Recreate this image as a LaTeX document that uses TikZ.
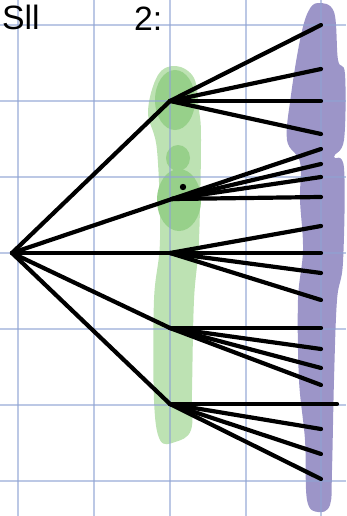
\documentclass[tikz,border=0pt]{standalone}
\usepackage{fontspec}
\setmainfont{Liberation Sans}
\usepackage{tikz}
\usetikzlibrary{calc}
\definecolor{gridB}{HTML}{8FA3D3}
\definecolor{greenL}{HTML}{BDE2B3}
\definecolor{greenD}{HTML}{97D08A}
\definecolor{purpleM}{HTML}{9C95C8}

\begin{document}
\begin{tikzpicture}[
    x=0.5mm,y=-0.5mm,
    pen/.style={line width=2.1mm,line cap=round,line join=round},
    gridline/.style={draw=gridB,line width=0.6mm,opacity=0.6},
    hand/.style={inner sep=0pt,font=\fontsize{48}{48}\selectfont},
]
\useasboundingbox (0,0) rectangle (346,516);
\clip (0,0) rectangle (346,516);

% =====================================================================
%  Marker highlights (behind the tree)
% =====================================================================
% purple band along the leaves
\fill[purpleM] plot[smooth cycle,tension=0.6] coordinates {
    (318,3) (334,12) (338,60) (345,74) (344,140) (334,157) (344,168)
    (343,262) (337,300) (334,380) (332,470) (330,505) (318,512)
    (307,500) (305,440) (299,380) (298,300) (303,250) (300,200)
    (300,162) (287,140) (291,95) (300,40) (308,12)};

% light green band along the middle column
\fill[greenL] plot[smooth cycle,tension=0.6] coordinates {
    (176,66) (194,78) (199,110) (201,140) (199,240) (194,300)
    (192,390) (191,430) (175,442) (160,440) (154,400) (154,300)
    (160,240) (157,150) (148,112) (158,75)};

% darker green blobs round the first two branch points
\fill[greenD] (175,100) ellipse [x radius=20,y radius=30];
\fill[greenD] (178,158) ellipse [x radius=12,y radius=13];
\fill[greenD] (179,200) ellipse [x radius=22,y radius=31];

% =====================================================================
%  Grid paper
% =====================================================================
\foreach \x in {18,94,170,246,321}
   \draw[gridline] (\x,0) -- (\x,516);
\foreach \y in {25,101,177,253,329,405,481}
   \draw[gridline] (0,\y) -- (346,\y);

% =====================================================================
%  Heading scribbles
% =====================================================================
\node[hand,anchor=base west] (lblS) at (2,30) {Sll};
\node[hand,anchor=base west] (lblZ) at (134,31) {2:};

% =====================================================================
%  Tree: root -> five branch points -> leaves
% =====================================================================
\coordinate (root) at (12,253);
\foreach \m/\x/\y in {1/170/101,2/172/199,3/170/253,4/170/328,5/170/404} {
   \coordinate (m\m) at (\x,\y);
   \draw[pen] (root) -- (m\m);
}

% leaves: parent / height / end
\foreach \p/\y/\x [count=\k] in {
      1/25/321,1/69/321,1/101/321,1/134/321,
      2/149/321,2/164/321,2/177/321,2/197/321,
      3/226/321,3/253/321,3/273/321,3/300/321,
      4/328/321,4/349/321,4/368/321,4/385/321,
      5/404/337,5/429/321,5/454/321,5/479/321} {
   \coordinate (leaf\k) at (\x,\y);
   \draw[pen] (m\p) -- (leaf\k);
}

% stray pen dot next to the second branch point
\fill (183,187) circle (3.2);

\end{tikzpicture}
\end{document}
